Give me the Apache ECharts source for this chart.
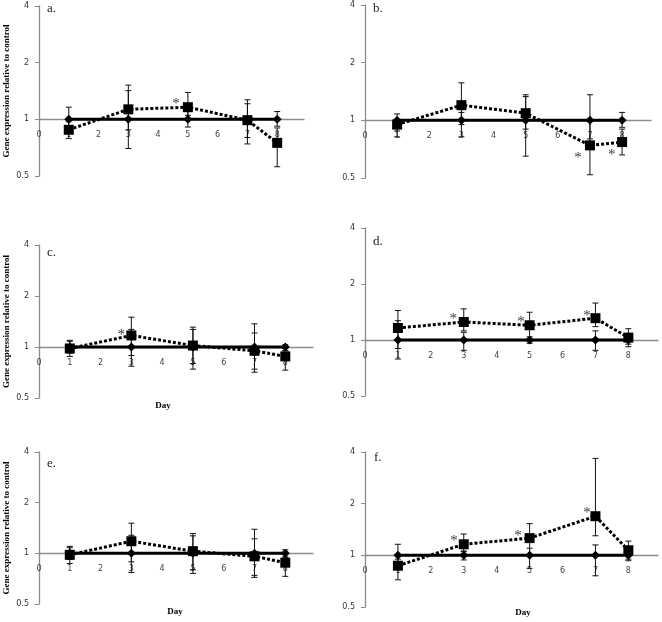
<!DOCTYPE html>
<html lang="en">
<head>
    <meta charset="utf-8">
    <title>Gene expression relative to control</title>
    <script src="https://cdn.jsdelivr.net/npm/echarts@6/dist/echarts.min.js"></script>
    <style>
        html, body { margin: 0; padding: 0; background: #fff; }
        #main { width: 662px; height: 622px; }
    </style>
</head>
<body>
    <div id="main"></div>
    <script type="text/javascript">
        // sampling days and panel names
        var days = [1, 3, 5, 7, 8];
        var panels = ['a.', 'b.', 'c.', 'd.', 'e.', 'f.'];
        var yTicks = [0.5, 1, 2, 4];
        var control = [1, 1, 1, 1, 1];

        // treated / control, one row per panel (a..f)
        var treatment = [
            [0.88, 1.13, 1.16, 0.99, 0.75],
            [0.95, 1.20, 1.09, 0.74, 0.77],
            [0.98, 1.17, 1.02, 0.95, 0.88],
            [1.16, 1.25, 1.20, 1.31, 1.03],
            [0.98, 1.18, 1.03, 0.96, 0.88],
            [0.87, 1.16, 1.26, 1.69, 1.07]
        ];
        var treatLow = [
            [0.79, 0.88, 1.05, 0.80, 0.56],
            [0.82, 0.95, 0.90, 0.52, 0.66],
            [0.88, 0.89, 0.80, 0.71, 0.73],
            [0.90, 1.12, 1.00, 1.18, 0.92],
            [0.87, 0.89, 0.80, 0.72, 0.73],
            [0.72, 1.05, 1.00, 1.30, 0.95]
        ];
        var treatHigh = [
            [0.97, 1.52, 1.39, 1.21, 0.90],
            [1.00, 1.57, 1.36, 1.00, 0.90],
            [1.08, 1.50, 1.31, 1.21, 0.95],
            [1.44, 1.47, 1.41, 1.58, 1.15],
            [1.08, 1.51, 1.31, 1.22, 0.95],
            [0.95, 1.33, 1.53, 3.67, 1.21]
        ];
        var ctrlLow = [
            [0.90, 0.70, 0.91, 0.74, 0.92],
            [0.88, 0.82, 0.65, 0.80, 0.92],
            [0.92, 0.77, 0.74, 0.74, 0.95],
            [0.79, 0.88, 0.96, 0.88, 0.95],
            [0.92, 0.77, 0.76, 0.74, 0.95],
            [0.90, 0.94, 0.84, 0.76, 0.93]
        ];
        var ctrlHigh = [
            [1.16, 1.42, 1.10, 1.27, 1.10],
            [1.08, 1.10, 1.33, 1.36, 1.10],
            [1.095, 1.27, 1.27, 1.37, 1.03],
            [1.27, 1.10, 1.04, 1.12, 1.05],
            [1.10, 1.28, 1.27, 1.39, 1.05],
            [1.16, 1.06, 1.10, 1.15, 1.05]
        ];
        // significance asterisks (x, y) per panel
        var starX = [[4.6], [6.63, 7.68], [2.67], [2.68, 4.74, 6.74], [], [2.7, 4.65, 6.74]];
        var starY = [[1.26], [0.67, 0.69], [1.24], [1.36, 1.32, 1.42], [], [1.28, 1.36, 1.85]];

        // layout of the six plot areas
        var grids = [
            {left: 39, top: 6, width: 265, height: 170},
            {left: 365, top: 5, width: 286, height: 173},
            {left: 39, top: 245, width: 274, height: 153},
            {left: 365, top: 228, width: 293, height: 168},
            {left: 39, top: 452, width: 274, height: 152},
            {left: 365, top: 452, width: 293, height: 155}
        ];
        var labelPos = [[47, 2], [373, 2], [47, 246], [373, 235], [47, 457], [374, 451]];
        var dayPos = [null, null, [163, 406], null, [175, 612], [523, 613]];

        var axisGray = '#8c8c8c';

        function errorItem(params, api) {
            var x = api.value(0);
            var p1 = api.coord([x, api.value(1)]);
            var p2 = api.coord([x, api.value(2)]);
            var cap = 3;
            var st = {stroke: '#111', lineWidth: 1};
            return {
                type: 'group',
                children: [
                    {type: 'line', shape: {x1: p1[0], y1: p1[1], x2: p2[0], y2: p2[1]}, style: st},
                    {type: 'line', shape: {x1: p1[0] - cap, y1: p1[1], x2: p1[0] + cap, y2: p1[1]}, style: st},
                    {type: 'line', shape: {x1: p2[0] - cap, y1: p2[1], x2: p2[0] + cap, y2: p2[1]}, style: st}
                ]
            };
        }

        var xAxes = [], yAxes = [], series = [], graphics = [];
        for (var i = 0; i < 6; i++) {
            var g = grids[i];
            xAxes.push({
                gridIndex: i,
                type: 'value',
                min: 0, max: 8.9, interval: 1,
                offset: -g.height / 3,
                axisLine: {show: true, lineStyle: {color: axisGray, width: 1.3}},
                axisTick: {show: false},
                splitLine: {show: false},
                axisLabel: {
                    fontSize: 8, color: '#444', margin: 12, fontFamily: 'DejaVu Sans',
                    formatter: function (v) { return v > 8.5 ? '' : String(v); }
                }
            });
            var y = {
                gridIndex: i,
                type: 'log', logBase: 2,
                min: yTicks[0], max: yTicks[yTicks.length - 1],
                axisLine: {show: true, lineStyle: {color: axisGray, width: 1.3}},
                axisTick: {show: true, length: 4, lineStyle: {color: axisGray}},
                splitLine: {show: false},
                axisLabel: {fontSize: 8, color: '#333', margin: 10, fontFamily: 'DejaVu Sans'}
            };
            if (i % 2 === 0) {
                y.name = 'Gene expression relative to control';
                y.nameLocation = 'middle';
                y.nameRotate = 90;
                y.nameGap = 28;
                y.nameTextStyle = {fontFamily: 'Liberation Serif', fontWeight: 'bold', fontSize: 9, color: '#000'};
            }
            yAxes.push(y);

            var errData = [];
            for (var j = 0; j < days.length; j++) {
                errData.push([days[j], ctrlLow[i][j], ctrlHigh[i][j]]);
                errData.push([days[j], treatLow[i][j], treatHigh[i][j]]);
            }
            series.push({
                type: 'custom', xAxisIndex: i, yAxisIndex: i, z: 2,
                renderItem: errorItem, data: errData
            });
            series.push({
                name: 'control', type: 'line', xAxisIndex: i, yAxisIndex: i, z: 3,
                data: days.map(function (d, j) { return [d, control[j]]; }),
                symbol: 'diamond', symbolSize: 9,
                itemStyle: {color: '#000'},
                lineStyle: {color: '#000', width: 3}
            });
            series.push({
                name: 'treated', type: 'line', xAxisIndex: i, yAxisIndex: i, z: 4,
                data: days.map(function (d, j) { return [d, treatment[i][j]]; }),
                symbol: 'rect', symbolSize: 10,
                itemStyle: {color: '#000'},
                lineStyle: {color: '#000', width: 3, type: [3, 2]}
            });
            if (starX[i].length) {
                series.push({
                    type: 'scatter', xAxisIndex: i, yAxisIndex: i, z: 5,
                    data: starX[i].map(function (x, j) { return [x, starY[i][j]]; }),
                    symbolSize: 1, itemStyle: {color: 'rgba(0,0,0,0)'},
                    label: {
                        show: true, formatter: '*', position: 'inside', offset: [0, 4],
                        fontFamily: 'Liberation Serif', fontSize: 15, color: '#000'
                    }
                });
            }

            graphics.push({
                type: 'text', left: labelPos[i][0], top: labelPos[i][1],
                style: {text: panels[i], font: '13px "Liberation Serif"', fill: '#222'}
            });
            if (dayPos[i]) {
                graphics.push({
                    type: 'text', x: dayPos[i][0], y: dayPos[i][1],
                    style: {text: 'Day', font: 'bold 9px "Liberation Serif"', fill: '#000', align: 'center', verticalAlign: 'middle'}
                });
            }
        }

        var myChart = echarts.init(document.getElementById('main'));
        myChart.setOption({
            animation: false,
            backgroundColor: '#fff',
            grid: grids,
            xAxis: xAxes,
            yAxis: yAxes,
            series: series,
            graphic: graphics
        });
    </script>
</body>
</html>
